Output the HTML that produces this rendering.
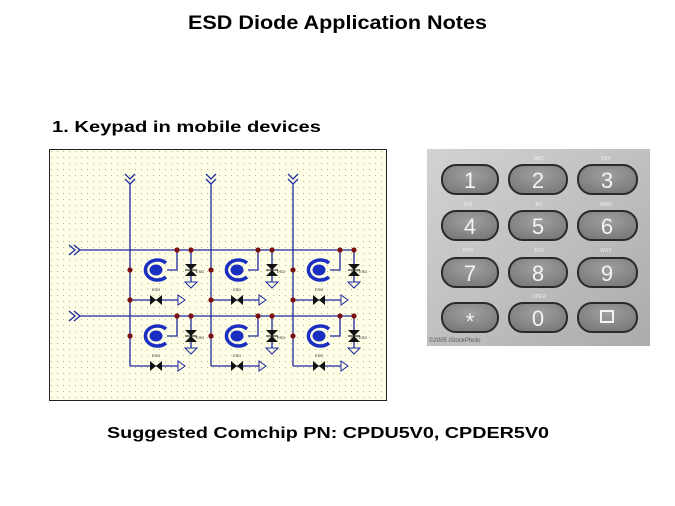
<!DOCTYPE html>
<html><head><meta charset="utf-8"><style>
html,body{margin:0;padding:0;background:#fff;}
body{width:675px;height:506px;overflow:hidden;position:relative;font-family:"Liberation Sans","DejaVu Sans",sans-serif;}
</style></head><body>
<svg width="675" height="506" viewBox="0 0 675 506" xmlns="http://www.w3.org/2000/svg" style="position:absolute;left:0;top:0">
<defs>
<pattern id="dots" x="49" y="149" width="6" height="6" patternUnits="userSpaceOnUse">
<rect x="2" y="2" width="1" height="1" fill="#b8b498"/>
</pattern>
<linearGradient id="kg" x1="0" y1="0" x2="1" y2="1">
<stop offset="0" stop-color="#d2d2d2"/><stop offset="0.5" stop-color="#c0c0c0"/><stop offset="1" stop-color="#ababab"/>
</linearGradient>
<radialGradient id="bg" cx="0.5" cy="0.35" r="0.7">
<stop offset="0" stop-color="#a0a0a0"/><stop offset="1" stop-color="#777"/>
</radialGradient>
<g id="cell">
<path d="M47,0 V20 H37" fill="none" stroke="#1b2a9c" stroke-width="1.3"/>
<path d="M36,13 A12,10 0 1 0 36,27" fill="none" stroke="#1a2ec0" stroke-width="3.5"/>
<ellipse cx="26" cy="20" rx="6.5" ry="5.5" fill="#1a2ec0"/>
<line x1="61" y1="0" x2="61" y2="32" stroke="#1b2a9c" stroke-width="1.3"/>
<polygon points="55,14 67,14 61,20" fill="#111"/>
<polygon points="55,26 67,26 61,20" fill="#111"/>
<line x1="55" y1="20" x2="67" y2="20" stroke="#111" stroke-width="1"/>
<polygon points="55,32 67,32 61,38" fill="none" stroke="#1b2a9c" stroke-width="1"/>
<line x1="0" y1="50" x2="48" y2="50" stroke="#1b2a9c" stroke-width="1.3"/>
<polygon points="20,45 20,55 26,50" fill="#111"/>
<polygon points="32,45 32,55 26,50" fill="#111"/>
<polygon points="48,45 48,55 55,50" fill="none" stroke="#1b2a9c" stroke-width="1"/>
<circle cx="0" cy="20" r="2.6" fill="#7a1010"/>
<circle cx="47" cy="0" r="2.6" fill="#7a1010"/>
<circle cx="61" cy="0" r="2.6" fill="#7a1010"/>
<text x="22" y="41" font-size="4" fill="#333">ESD</text>
<text x="66" y="23" font-size="4" fill="#333">ESD</text>
</g>
</defs>
<text x="188" y="29" font-size="19" font-weight="bold" textLength="299" lengthAdjust="spacingAndGlyphs" fill="#000">ESD Diode Application Notes</text>
<text x="52" y="132" font-size="16" font-weight="bold" textLength="269" lengthAdjust="spacingAndGlyphs" fill="#000">1. Keypad in mobile devices</text>
<text x="107" y="438" font-size="16" font-weight="bold" textLength="442" lengthAdjust="spacingAndGlyphs" fill="#000">Suggested Comchip PN: CPDU5V0, CPDER5V0</text>

<rect x="49.5" y="149.5" width="337" height="251" fill="#fefde6" stroke="#222" stroke-width="1"/>
<rect x="50" y="150" width="336" height="250" fill="url(#dots)"/>
<g stroke="#1b2a9c" stroke-width="1.3" fill="none">
<line x1="80" y1="250" x2="354" y2="250"/>
<line x1="80" y1="316" x2="354" y2="316"/>
<line x1="130" y1="184" x2="130" y2="366"/>
<line x1="211" y1="184" x2="211" y2="366"/>
<line x1="293" y1="184" x2="293" y2="366"/>
<path d="M69,245 L75,250 L69,255 M74,245 L80,250 L74,255"/>
<path d="M69,311 L75,316 L69,321 M74,311 L80,316 L74,321"/>
<path d="M125,174 L130,179 L135,174 M125,179 L130,184 L135,179"/>
<path d="M206,174 L211,179 L216,174 M206,179 L211,184 L216,179"/>
<path d="M288,174 L293,179 L298,174 M288,179 L293,184 L298,179"/>
</g>
<use href="#cell" x="130" y="250"/><use href="#cell" x="211" y="250"/><use href="#cell" x="293" y="250"/>
<use href="#cell" x="130" y="316"/><use href="#cell" x="211" y="316"/><use href="#cell" x="293" y="316"/>
<g fill="#7a1010">
<circle cx="130" cy="300" r="2.6"/><circle cx="211" cy="300" r="2.6"/><circle cx="293" cy="300" r="2.6"/>
</g>

<rect x="427" y="149" width="223" height="197" fill="url(#kg)"/>
<g font-size="5" fill="#eee" text-anchor="middle">
<text x="539" y="160">ABC</text><text x="606" y="160">DEF</text>
<text x="468" y="206">GHI</text><text x="539" y="206">JKL</text><text x="606" y="206">MNO</text>
<text x="468" y="252">PRS</text><text x="539" y="252">TUV</text><text x="606" y="252">WXY</text>
<text x="539" y="298">OPER</text>
</g>
<g fill="url(#bg)" stroke="#2a2a2a" stroke-width="2">
<rect x="442" y="165" width="56" height="29" rx="14"/><rect x="509" y="165" width="58" height="29" rx="14"/><rect x="578" y="165" width="59" height="29" rx="14"/>
<rect x="442" y="211" width="56" height="29" rx="14"/><rect x="509" y="211" width="58" height="29" rx="14"/><rect x="578" y="211" width="59" height="29" rx="14"/>
<rect x="442" y="258" width="56" height="29" rx="14"/><rect x="509" y="258" width="58" height="29" rx="14"/><rect x="578" y="258" width="59" height="29" rx="14"/>
<rect x="442" y="303" width="56" height="29" rx="14"/><rect x="509" y="303" width="58" height="29" rx="14"/><rect x="578" y="303" width="59" height="29" rx="14"/>
</g>
<g font-size="22" fill="#f4f4f4" text-anchor="middle">
<text x="470" y="188">1</text><text x="538" y="188">2</text><text x="607" y="188">3</text>
<text x="470" y="234">4</text><text x="538" y="234">5</text><text x="607" y="234">6</text>
<text x="470" y="281">7</text><text x="538" y="281">8</text><text x="607" y="281">9</text>
<text x="470" y="329">*</text><text x="538" y="326">0</text>
</g>
<rect x="601" y="311" width="12" height="11" fill="none" stroke="#f4f4f4" stroke-width="2"/>
<text x="429" y="342" font-size="6" fill="#555" font-style="italic">©2005 iStockPhoto</text>
</svg>
</body></html>
